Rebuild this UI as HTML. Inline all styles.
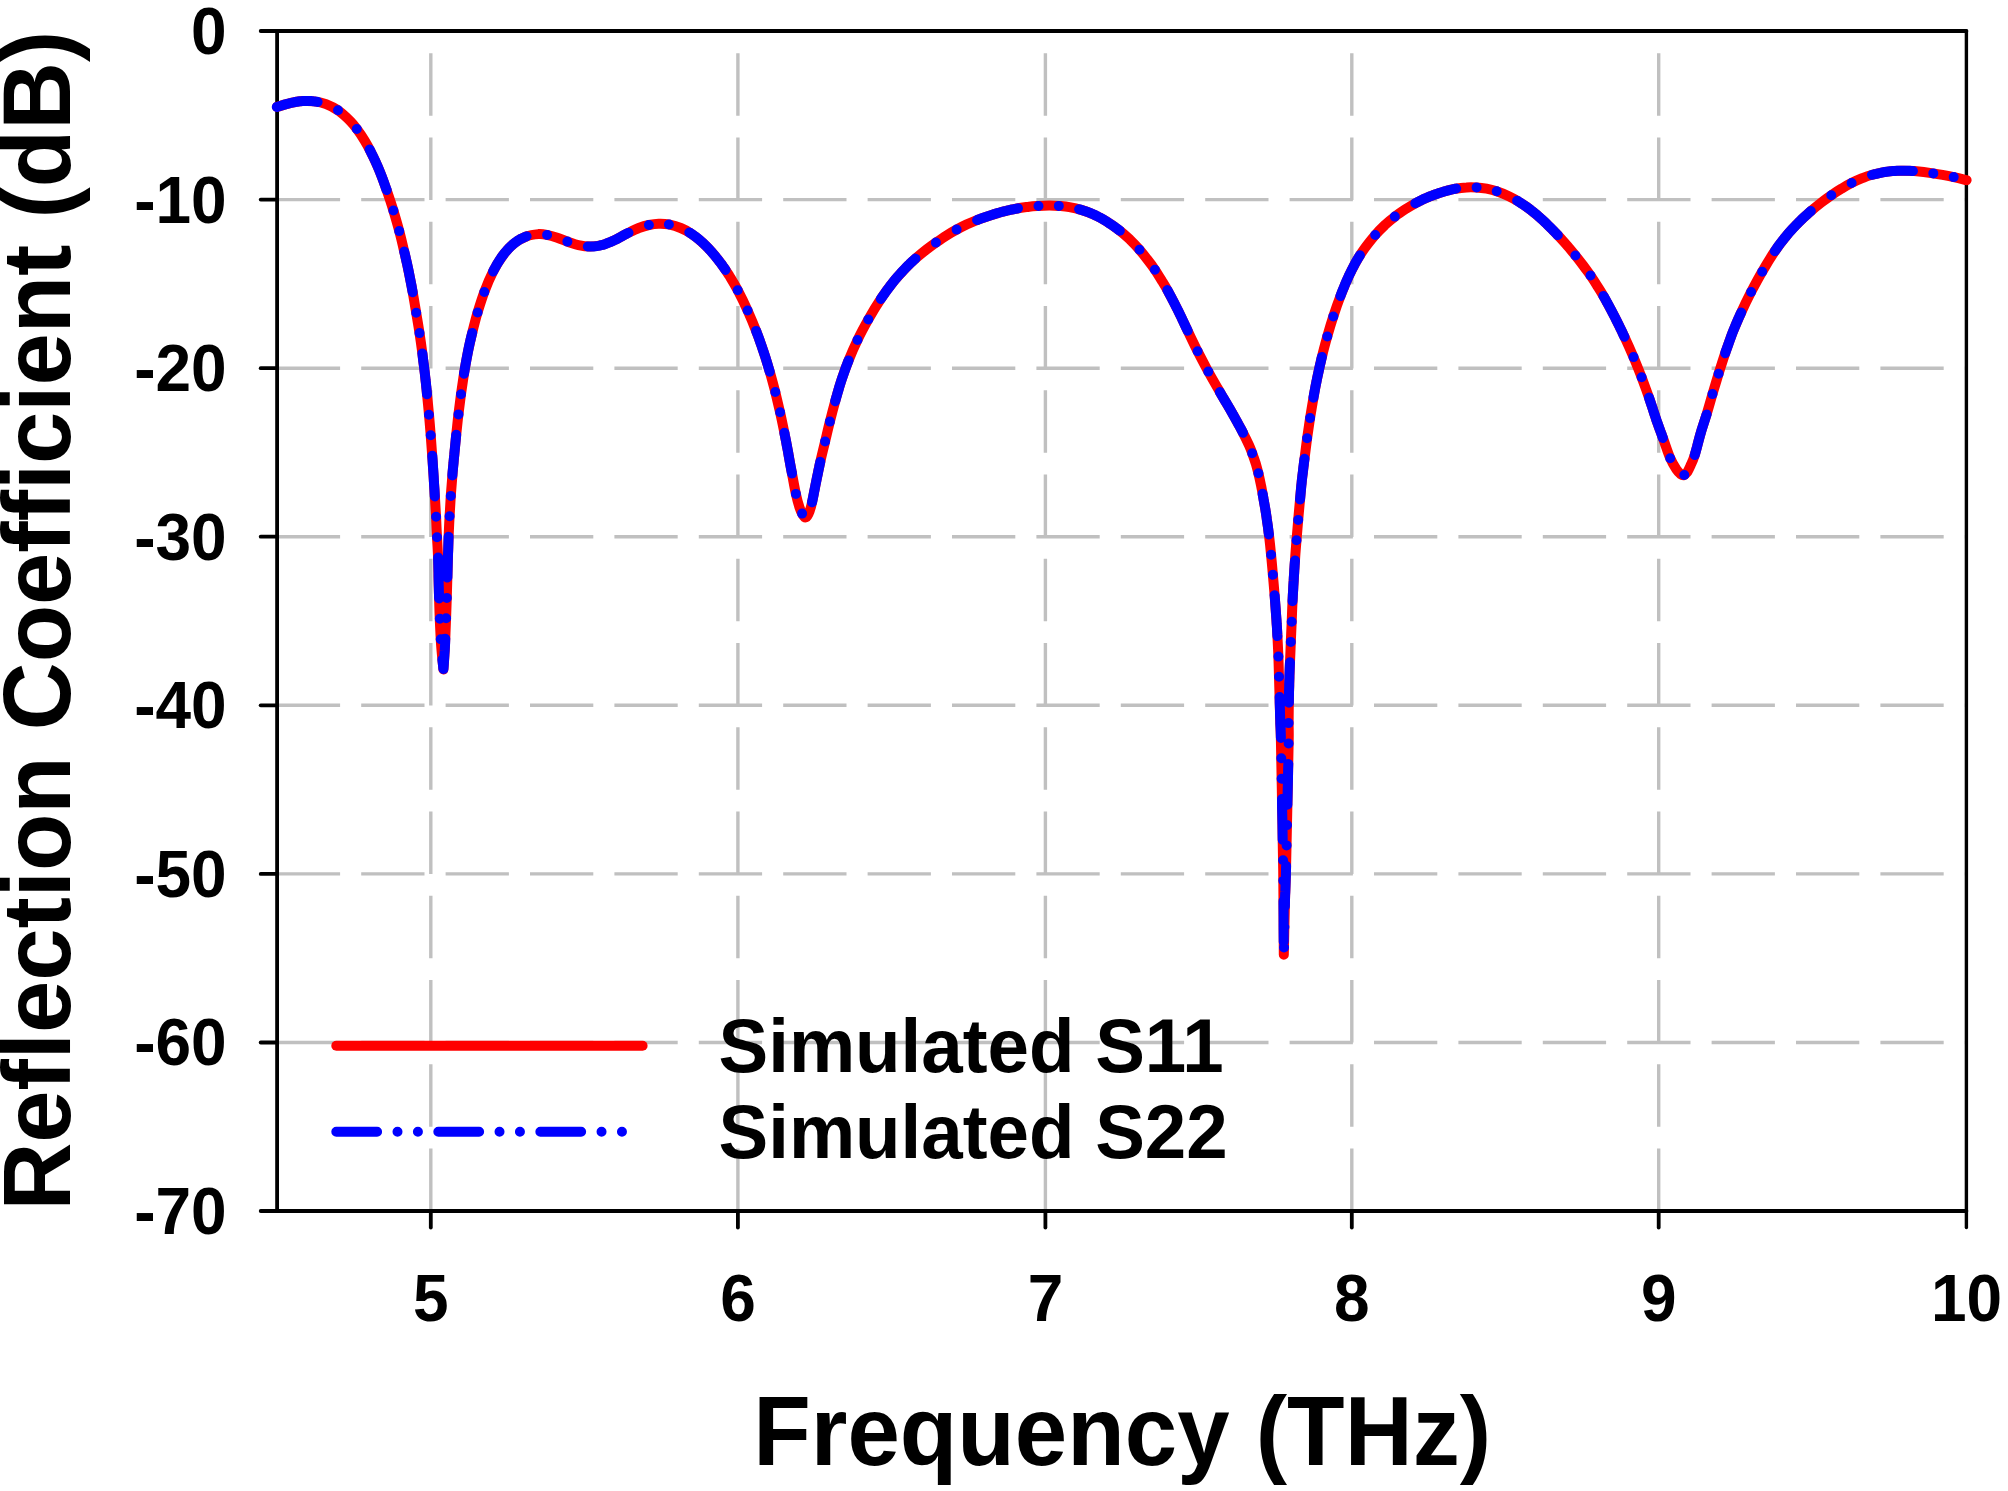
<!DOCTYPE html>
<html lang="en"><head><meta charset="utf-8"><title>Reflection Coefficient vs Frequency</title>
<style>html,body{margin:0;padding:0;background:#fff}body{width:2008px;height:1491px;overflow:hidden}svg{display:block}text{font-family:'Liberation Sans', sans-serif;font-weight:700;fill:#000}</style></head><body>
<svg width="2008" height="1491" viewBox="0 0 2008 1491">
<rect width="2008" height="1491" fill="#fff"/>
<g stroke="#c0c0c0" stroke-width="3.4" fill="none">
<g stroke-dasharray="63.3 21.1">
<line x1="276.8" y1="199.6" x2="1966.4" y2="199.6"/>
<line x1="276.8" y1="368.2" x2="1966.4" y2="368.2"/>
<line x1="276.8" y1="536.7" x2="1966.4" y2="536.7"/>
<line x1="276.8" y1="705.3" x2="1966.4" y2="705.3"/>
<line x1="276.8" y1="873.9" x2="1966.4" y2="873.9"/>
<line x1="276.8" y1="1042.5" x2="1966.4" y2="1042.5"/>
</g><g stroke-dasharray="62.5 21.75">
<line x1="430.8" y1="1211.0" x2="430.8" y2="31.0"/>
<line x1="737.9" y1="1211.0" x2="737.9" y2="31.0"/>
<line x1="1045.4" y1="1211.0" x2="1045.4" y2="31.0"/>
<line x1="1351.8" y1="1211.0" x2="1351.8" y2="31.0"/>
<line x1="1658.7" y1="1211.0" x2="1658.7" y2="31.0"/>
</g></g>
<g stroke="#000" stroke-width="3.8" fill="none" stroke-linecap="round">
<line x1="260.7" y1="31.0" x2="1966.4" y2="31.0"/>
<line x1="260.7" y1="1211.0" x2="1966.4" y2="1211.0"/>
<line x1="277.1" y1="31.0" x2="277.1" y2="1211.0" stroke-linecap="butt"/>
<line x1="1966.4" y1="31.0" x2="1966.4" y2="1227.5" stroke-width="3.4"/>
<line x1="260.7" y1="199.6" x2="277.1" y2="199.6"/>
<line x1="260.7" y1="368.2" x2="277.1" y2="368.2"/>
<line x1="260.7" y1="536.7" x2="277.1" y2="536.7"/>
<line x1="260.7" y1="705.3" x2="277.1" y2="705.3"/>
<line x1="260.7" y1="873.9" x2="277.1" y2="873.9"/>
<line x1="260.7" y1="1042.5" x2="277.1" y2="1042.5"/>
<line x1="430.8" y1="1211.0" x2="430.8" y2="1227.5"/>
<line x1="737.9" y1="1211.0" x2="737.9" y2="1227.5"/>
<line x1="1045.4" y1="1211.0" x2="1045.4" y2="1227.5"/>
<line x1="1351.8" y1="1211.0" x2="1351.8" y2="1227.5"/>
<line x1="1658.7" y1="1211.0" x2="1658.7" y2="1227.5"/>
</g>
<path d="M277.0 106.9C279.2 106.3 285.9 104.1 290.1 103.1C294.3 102.1 298.2 101.4 302.2 101.1C306.2 100.8 310.4 100.9 314.3 101.4C318.3 101.9 322.1 102.6 326.1 104.1C330.1 105.6 334.2 107.7 338.3 110.5C342.3 113.4 347.3 118.1 350.4 121.2C353.4 124.2 354.3 125.5 356.6 128.7C359.0 131.9 362.2 136.6 364.5 140.4C366.8 144.2 368.2 146.6 370.6 151.4C373.0 156.2 376.3 163.0 378.9 169.4C381.6 175.8 384.1 182.9 386.5 189.7C388.9 196.6 391.2 203.4 393.3 210.3C395.4 217.3 397.5 224.5 399.3 231.3C401.1 238.1 402.5 244.1 404.1 251.1C405.8 258.0 407.6 266.1 409.0 273.2C410.5 280.2 411.7 286.7 412.9 293.3C414.1 299.9 415.1 306.2 416.2 312.8C417.3 319.4 418.5 326.1 419.5 332.9C420.5 339.7 421.5 346.8 422.4 353.6C423.2 360.4 424.1 367.4 424.9 373.8C425.6 380.2 426.1 385.1 426.8 391.9C427.5 398.7 428.3 407.5 429.0 414.7C429.6 421.9 430.1 427.2 430.7 435.2C431.3 443.2 432.0 452.3 432.7 462.6C433.4 472.9 434.3 487.7 434.9 496.8C435.4 505.9 435.7 510.7 436.1 517.3C436.4 523.9 436.6 529.8 437.0 536.6C437.3 543.4 437.8 549.8 438.1 558.3C438.4 566.8 438.5 578.0 438.8 587.9C439.1 597.8 439.3 608.0 439.7 617.5C440.1 627.0 440.5 636.2 441.1 644.9C441.7 653.6 443.0 665.4 443.4 669.5C443.7 665.4 444.6 653.6 445.0 644.9C445.4 636.2 445.8 625.5 446.1 617.5C446.4 609.5 446.5 605.7 446.8 597.0C447.1 588.3 447.4 575.2 447.7 565.1C448.0 555.0 448.3 544.8 448.6 536.6C449.0 528.4 449.2 522.9 449.6 516.1C450.0 509.3 450.4 502.6 450.8 495.6C451.3 488.6 451.9 481.4 452.5 474.0C453.1 466.6 454.0 457.9 454.6 451.2C455.2 444.6 455.7 440.2 456.3 434.1C457.0 428.0 457.6 421.3 458.4 414.7C459.2 408.0 460.1 401.2 461.0 394.2C462.0 387.3 463.0 380.1 464.1 373.0C465.3 365.9 466.6 358.3 468.0 351.5C469.4 344.8 470.7 339.0 472.3 332.5C473.9 326.0 475.5 319.5 477.5 312.7C479.6 305.9 481.8 298.6 484.4 291.7C487.0 284.7 490.1 277.4 493.2 271.2C496.4 265.0 499.9 259.3 503.5 254.6C507.1 249.8 510.9 245.9 514.8 242.9C518.7 239.8 522.8 237.7 526.8 236.2C530.7 234.8 535.2 234.4 538.5 234.1C541.8 233.9 543.6 234.2 546.8 234.8C549.9 235.4 553.7 236.5 557.3 237.7C560.8 238.8 564.4 240.5 567.9 241.8C571.4 243.0 574.7 244.4 578.4 245.2C582.2 246.0 586.4 246.6 590.3 246.6C594.2 246.6 598.1 246.0 602.1 245.0C606.1 243.9 610.3 242.1 614.3 240.3C618.4 238.4 622.4 235.8 626.5 233.8C630.6 231.8 635.0 229.5 638.8 228.0C642.5 226.6 645.5 225.7 648.9 225.0C652.2 224.3 655.4 223.8 658.7 223.7C662.0 223.6 665.1 223.7 668.8 224.4C672.4 225.2 677.0 226.5 680.7 228.0C684.4 229.5 687.4 231.1 690.7 233.3C694.1 235.5 697.7 238.2 701.0 241.2C704.4 244.2 707.8 247.5 711.1 251.3C714.4 255.0 718.0 259.5 721.0 263.5C724.0 267.6 726.4 271.1 729.2 275.5C731.9 280.0 734.6 284.3 737.7 290.2C740.8 296.1 744.6 303.9 747.7 310.8C750.8 317.8 753.9 325.2 756.5 331.8C759.1 338.4 761.0 344.0 763.2 350.6C765.4 357.1 767.6 364.3 769.6 371.2C771.6 378.0 773.4 384.9 775.2 391.7C776.9 398.6 778.5 405.5 780.1 412.4C781.6 419.3 783.1 426.2 784.4 433.0C785.8 439.8 787.0 446.3 788.3 453.2C789.5 460.2 790.9 468.0 792.2 474.8C793.5 481.6 794.7 488.6 795.9 494.0C797.1 499.4 798.3 503.8 799.4 507.1C800.5 510.5 801.4 512.4 802.4 514.1C803.4 515.8 804.4 517.5 805.4 517.5C806.4 517.5 807.4 516.2 808.4 514.1C809.4 512.0 810.2 510.0 811.4 505.1C812.6 500.2 814.0 492.3 815.5 484.9C817.0 477.5 818.9 467.9 820.5 460.8C822.1 453.7 823.4 448.8 824.9 442.3C826.5 435.7 828.1 428.6 829.9 421.5C831.7 414.4 833.7 406.8 835.6 399.8C837.6 392.7 839.6 385.8 841.7 379.3C843.9 372.8 845.9 367.3 848.5 360.7C851.1 354.2 854.3 346.7 857.6 339.9C860.8 333.1 864.2 326.8 868.1 319.9C872.0 313.0 876.7 305.2 881.1 298.6C885.4 292.1 890.0 286.0 894.3 280.7C898.6 275.4 903.0 270.7 906.7 266.9C910.4 263.1 913.1 260.7 916.4 257.8C919.7 255.0 923.2 252.1 926.5 249.5C929.8 247.0 932.8 244.8 936.2 242.4C939.5 240.1 943.1 237.6 946.6 235.4C950.0 233.3 953.4 231.3 956.8 229.5C960.1 227.7 963.1 226.1 966.8 224.4C970.5 222.8 974.8 221.0 978.8 219.4C982.8 217.9 986.8 216.5 990.9 215.2C994.9 213.9 998.6 212.7 1003.0 211.6C1007.4 210.5 1012.8 209.3 1017.1 208.5C1021.5 207.7 1025.6 207.2 1029.1 206.7C1032.6 206.3 1034.8 206.2 1038.2 206.0C1041.6 205.8 1045.8 205.6 1049.3 205.6C1052.8 205.6 1056.0 205.7 1059.3 205.9C1062.7 206.2 1065.7 206.4 1069.4 207.1C1073.0 207.7 1077.3 208.6 1081.3 209.9C1085.4 211.1 1089.5 212.6 1093.6 214.5C1097.6 216.3 1101.2 218.1 1105.5 220.8C1109.9 223.5 1115.6 227.5 1119.8 230.7C1123.9 233.8 1127.0 236.8 1130.2 239.8C1133.4 242.9 1136.1 245.8 1139.0 249.1C1141.8 252.4 1144.7 256.0 1147.3 259.4C1150.0 262.8 1152.4 266.0 1154.9 269.7C1157.4 273.4 1160.1 277.9 1162.3 281.5C1164.6 285.2 1165.5 286.6 1168.2 291.6C1170.9 296.6 1175.4 305.1 1178.6 311.6C1181.8 318.2 1184.5 324.1 1187.6 330.7C1190.8 337.3 1194.2 344.5 1197.6 351.3C1201.1 358.1 1204.7 365.0 1208.2 371.5C1211.8 377.9 1215.3 384.1 1218.8 390.1C1222.2 396.0 1225.8 402.0 1228.8 407.2C1231.8 412.4 1234.4 416.9 1236.8 421.3C1239.2 425.7 1241.3 429.4 1243.3 433.4C1245.4 437.4 1247.6 442.1 1249.1 445.4C1250.6 448.7 1251.1 450.2 1252.2 453.2C1253.3 456.2 1254.7 460.2 1255.8 463.6C1256.8 467.1 1257.6 470.1 1258.5 473.7C1259.4 477.4 1260.3 481.9 1261.1 485.7C1261.8 489.5 1262.3 491.9 1263.1 496.5C1263.9 501.1 1265.0 507.1 1266.0 513.4C1266.9 519.7 1268.0 527.5 1268.9 534.3C1269.7 541.1 1270.4 547.4 1271.0 554.2C1271.7 561.0 1272.3 567.9 1272.9 575.0C1273.5 582.1 1274.2 589.5 1274.7 596.7C1275.3 603.9 1275.9 611.9 1276.3 618.4C1276.8 624.9 1277.1 629.3 1277.4 635.6C1277.7 641.9 1278.1 649.5 1278.4 656.4C1278.6 663.3 1278.8 670.2 1279.0 677.2C1279.2 684.1 1279.4 691.0 1279.6 698.1C1279.8 705.2 1280.0 712.8 1280.2 719.8C1280.4 726.8 1280.6 726.6 1280.9 740.0C1281.2 753.4 1281.6 778.3 1282.0 800.0C1282.4 821.7 1282.9 844.2 1283.2 870.0C1283.5 895.8 1283.7 940.7 1283.8 954.8C1284.0 945.7 1284.6 914.1 1285.0 900.0C1285.4 885.9 1285.6 886.7 1286.0 870.0C1286.4 853.3 1287.0 821.7 1287.5 800.0C1288.0 778.3 1288.5 752.8 1288.7 740.0C1288.9 727.2 1288.6 729.5 1288.6 723.4C1288.7 717.3 1288.7 710.4 1288.8 703.5C1288.9 696.6 1289.1 688.7 1289.3 681.8C1289.5 674.9 1289.7 668.6 1290.0 661.9C1290.3 655.3 1290.6 648.6 1290.8 641.9C1291.1 635.2 1291.4 628.3 1291.7 621.7C1292.0 615.1 1292.1 609.3 1292.5 602.1C1292.8 594.9 1293.4 585.8 1293.8 578.6C1294.2 571.4 1294.6 565.1 1295.1 558.7C1295.5 552.3 1296.0 546.7 1296.5 540.2C1297.0 533.7 1297.7 526.5 1298.2 519.8C1298.8 513.1 1299.4 506.2 1300.0 499.9C1300.6 493.5 1301.0 488.4 1301.7 481.7C1302.5 475.0 1303.5 466.8 1304.4 459.6C1305.3 452.4 1306.2 445.3 1307.1 438.4C1308.1 431.4 1309.1 424.6 1310.1 417.9C1311.2 411.2 1312.2 405.0 1313.4 398.2C1314.6 391.4 1315.9 384.3 1317.4 377.1C1318.9 369.9 1320.7 361.6 1322.4 354.9C1324.0 348.2 1325.4 343.2 1327.2 336.7C1329.0 330.3 1331.2 322.8 1333.4 316.1C1335.6 309.4 1337.6 303.5 1340.3 296.5C1343.0 289.5 1346.2 281.4 1349.6 274.3C1353.0 267.3 1356.4 260.7 1360.6 254.2C1364.8 247.8 1370.7 240.4 1374.9 235.4C1379.0 230.5 1382.2 227.6 1385.6 224.4C1389.0 221.2 1391.7 219.0 1395.2 216.4C1398.6 213.7 1402.9 210.9 1406.4 208.6C1409.9 206.4 1412.5 204.8 1416.2 202.8C1419.8 200.9 1423.8 198.9 1428.2 197.1C1432.6 195.3 1437.9 193.4 1442.5 192.0C1447.0 190.6 1451.5 189.5 1455.5 188.7C1459.5 188.0 1463.1 187.6 1466.5 187.4C1470.0 187.1 1472.9 187.2 1476.2 187.4C1479.5 187.6 1483.0 188.0 1486.6 188.7C1490.1 189.4 1493.6 190.2 1497.3 191.5C1501.0 192.7 1505.3 194.5 1508.8 196.2C1512.4 197.9 1514.9 199.2 1518.6 201.6C1522.3 203.9 1527.0 207.0 1531.0 210.2C1535.1 213.3 1538.6 216.3 1543.0 220.4C1547.3 224.4 1553.2 230.5 1557.1 234.5C1561.0 238.5 1563.2 241.1 1566.2 244.5C1569.2 247.9 1572.2 251.6 1575.1 255.1C1577.9 258.6 1580.7 262.2 1583.3 265.6C1585.9 269.1 1588.3 272.5 1590.7 275.8C1593.0 279.2 1595.1 282.4 1597.2 285.8C1599.4 289.2 1600.8 291.3 1603.6 296.2C1606.3 301.1 1610.4 308.5 1613.9 315.3C1617.4 322.0 1621.2 330.0 1624.5 336.9C1627.7 343.8 1630.5 350.1 1633.4 356.9C1636.3 363.7 1639.0 370.6 1641.7 377.5C1644.3 384.5 1646.9 391.7 1649.4 398.8C1651.9 405.9 1654.1 413.4 1656.4 420.1C1658.7 426.8 1661.0 432.6 1663.3 439.0C1665.6 445.4 1668.2 453.5 1670.4 458.6C1672.6 463.7 1674.8 467.0 1676.5 469.6C1678.2 472.2 1679.3 473.1 1680.5 474.0C1681.7 474.9 1682.4 475.5 1683.5 475.3C1684.6 475.1 1685.7 474.2 1686.9 472.6C1688.1 471.0 1689.2 468.5 1690.5 465.6C1691.8 462.8 1692.9 460.9 1694.6 455.5C1696.3 450.1 1698.6 440.4 1700.6 433.4C1702.6 426.4 1704.9 420.0 1706.9 413.4C1708.9 406.8 1710.6 400.7 1712.5 394.0C1714.5 387.4 1716.6 380.2 1718.7 373.4C1720.9 366.5 1722.9 360.0 1725.3 352.9C1727.7 345.9 1730.5 337.9 1733.2 331.0C1736.0 324.1 1738.7 318.0 1741.6 311.6C1744.5 305.2 1747.4 299.3 1750.8 292.6C1754.3 285.9 1758.3 278.3 1762.4 271.4C1766.4 264.4 1770.9 257.0 1775.0 250.9C1779.2 244.7 1783.2 239.6 1787.3 234.7C1791.3 229.9 1795.5 225.6 1799.3 221.8C1803.1 217.9 1806.6 214.8 1810.1 211.7C1813.7 208.6 1817.1 205.8 1820.6 203.1C1824.2 200.4 1827.7 197.8 1831.2 195.4C1834.6 193.0 1838.0 190.7 1841.5 188.7C1844.9 186.6 1848.5 184.5 1851.9 182.8C1855.2 181.1 1858.4 179.7 1861.6 178.4C1864.9 177.1 1867.1 176.1 1871.4 175.0C1875.7 173.9 1882.5 172.3 1887.4 171.6C1892.3 170.9 1896.3 170.8 1900.7 170.7C1905.2 170.6 1908.8 170.7 1914.2 171.1C1919.5 171.6 1926.4 172.4 1933.0 173.4C1939.6 174.4 1948.2 176.0 1953.8 177.1C1959.4 178.2 1964.5 179.7 1966.6 180.2" fill="none" stroke="#ff0000" stroke-width="10" stroke-linecap="round" stroke-linejoin="round"/>
<path d="M276.8 107.0L277.3 106.8L278.4 106.5L279.9 106.0L281.6 105.5L283.4 104.9L285.3 104.4L287.2 103.8L289.0 103.4L290.6 103.0L292.2 102.6L293.7 102.3L295.2 102.0L296.7 101.8L298.2 101.5L299.7 101.3L301.2 101.2L302.7 101.1L304.2 101.0L305.7 100.9L307.3 100.9L308.8 101.0L310.3 101.0L311.8 101.1L313.3 101.3L314.8 101.4L316.3 101.6L317.6 101.9M338.0 110.3h0.01M356.8 129.0h0.01M369.6 149.4L369.7 149.7L370.6 151.4L371.5 153.3L372.5 155.3L373.6 157.5L374.7 159.8L375.7 162.1L376.8 164.5L377.9 167.0L378.9 169.4L379.9 171.8L380.9 174.3L381.9 176.8L382.8 179.4L383.8 182.0L384.7 184.6L385.6 187.2L386.5 189.7L386.7 190.1M393.4 210.5h0.01M399.2 231.1h0.01M404.2 251.5L404.3 251.9L405.0 254.6L405.6 257.4L406.2 260.2L406.9 263.0L407.5 265.8L408.1 268.6L408.7 271.4L409.2 274.0L409.7 276.6L410.2 279.2L410.7 281.7L411.2 284.2L411.7 286.7L412.1 289.2L412.6 291.7L412.7 292.3M416.2 312.7h0.01M419.5 333.1h0.01M422.3 353.5L422.4 353.6L422.7 356.2L423.0 358.8L423.3 361.3L423.7 363.9L424.0 366.4L424.3 368.9L424.6 371.4L424.9 373.8L425.1 376.1L425.4 378.4L425.6 380.5L425.9 382.7L426.1 384.9L426.3 387.1L426.6 389.4L426.8 391.9L427.0 394.3M428.9 414.7h0.01M430.7 435.3h0.01M432.3 455.7L432.3 456.3L432.6 460.1L432.8 463.9L433.1 468.1L433.4 472.5L433.7 477.1L433.9 481.7L434.2 486.2L434.5 490.4L434.7 494.4L434.8 496.4M436.1 516.8h0.01M437.0 537.2h0.01M438.1 557.6L438.1 558.3L438.2 561.6L438.3 565.1L438.4 568.8L438.5 572.6L438.5 576.5L438.6 580.3L438.7 584.1L438.8 587.9L438.9 591.6L439.0 595.4L439.1 598.4M439.8 618.8h0.01M440.7 639.2h0.01M442.4 659.6L442.4 660.0L442.8 663.2L443.1 666.0L443.3 668.3L443.4 668.9L443.6 666.9L443.8 664.2L444.0 661.1L444.2 657.8L444.4 654.2L444.7 650.6L444.9 647.1L445.1 643.8L445.2 640.4L445.3 638.7M446.1 618.3h0.01M446.8 597.9h0.01M447.3 577.5L447.4 577.3L447.5 573.1L447.6 569.0L447.7 565.1L447.8 561.3L447.9 557.5L448.0 553.8L448.2 550.1L448.3 546.6L448.4 543.1L448.5 539.8L448.6 536.7M449.6 516.3h0.01M450.8 495.9h0.01M452.4 475.5L452.4 474.9L452.6 472.1L452.9 469.2L453.2 466.3L453.5 463.3L453.7 460.4L454.0 457.5L454.3 454.7L454.5 452.1L454.8 449.6L455.0 447.3L455.2 445.2L455.4 443.1L455.6 441.1L455.8 439.1L456.0 437.0L456.2 434.8L456.2 434.8M458.5 414.4h0.01M461.0 394.3h0.01M464.0 373.8L464.1 373.0L464.6 370.3L465.0 367.6L465.5 364.9L466.0 362.1L466.5 359.4L467.0 356.8L467.5 354.1L468.0 351.5L468.5 349.1L469.0 346.6L469.5 344.3L470.0 341.9L470.6 339.6L471.1 337.3L471.7 334.9L472.2 332.9M477.6 312.5h0.01M484.3 292.0h0.01M493.1 271.5L493.2 271.2L494.4 268.9L495.7 266.6L496.9 264.4L498.2 262.3L499.5 260.3L500.8 258.3L502.1 256.4L503.5 254.6L504.8 252.8L506.2 251.2L507.6 249.6L509.0 248.1L510.4 246.7L511.9 245.3L513.3 244.0L514.8 242.9L516.3 241.8L517.7 240.7L519.3 239.8L520.8 238.9L522.3 238.2L523.8 237.5L525.3 236.8L526.6 236.3M547.1 234.9h0.01M567.4 241.6h0.01M587.8 246.5L587.8 246.5L589.3 246.6L590.8 246.6L592.3 246.5L593.7 246.4L595.2 246.3L596.7 246.1L598.1 245.9L599.6 245.6L601.1 245.2L602.6 244.9L604.1 244.4L605.6 243.9L607.2 243.3L608.7 242.7L610.2 242.1L611.8 241.4L613.3 240.7L614.8 240.0L616.4 239.3L617.9 238.5L619.4 237.7L620.9 236.8L622.4 236.0L623.9 235.1L625.5 234.3L627.0 233.5L628.5 232.8M648.9 225.0h0.01M668.9 224.5h0.01M689.3 232.4L689.5 232.5L690.7 233.3L692.0 234.2L693.3 235.1L694.6 236.0L695.9 237.0L697.2 238.0L698.5 239.0L699.8 240.1L701.0 241.2L702.3 242.3L703.6 243.5L704.8 244.7L706.1 246.0L707.3 247.2L708.6 248.5L709.8 249.9L711.1 251.3L712.3 252.7L713.6 254.2L714.9 255.7L716.1 257.3L717.4 258.9L718.6 260.4L719.8 262.0L721.0 263.5L722.1 265.0L723.1 266.5L724.2 267.9L725.2 269.4L725.5 269.9M737.7 290.3h0.01M747.6 310.5h0.01M756.1 330.9L756.2 331.0L757.1 333.5L758.0 335.8L758.9 338.2L759.7 340.5L760.5 342.8L761.3 345.0L762.1 347.4L762.9 349.8L763.7 352.2L764.6 354.8L765.4 357.3L766.2 359.9L767.0 362.5L767.8 365.1L768.5 367.7L769.3 370.3L769.7 371.7M775.3 392.0h0.01M780.1 412.3h0.01M784.4 432.7L784.4 433.0L784.9 435.6L785.4 438.1L785.9 440.6L786.4 443.1L786.8 445.6L787.3 448.1L787.8 450.6L788.3 453.2L788.7 455.9L789.2 458.6L789.7 461.3L790.2 464.1L790.7 466.8L791.2 469.5L791.7 472.2L792.0 473.5M795.9 493.9h0.01M802.1 513.6h0.01M812.0 502.3L812.2 501.7L812.7 499.3L813.2 496.8L813.7 494.2L814.2 491.4L814.8 488.6L815.3 485.8L815.9 483.0L816.5 480.0L817.1 476.9L817.8 473.8L818.4 470.6L819.1 467.5L819.7 464.5L820.3 461.8M825.1 441.5h0.01M829.9 421.6h0.01M835.2 401.2L835.4 400.6L836.1 398.0L836.9 395.4L837.6 392.8L838.4 390.2L839.1 387.6L839.9 385.1L840.7 382.6L841.5 380.1L842.3 377.7L843.1 375.4L843.9 373.1L844.7 370.8L845.5 368.5L846.3 366.3L847.2 363.9L848.2 361.5L848.6 360.4M857.5 340.0h0.01M868.3 319.5h0.01M880.8 299.0L881.1 298.6L882.7 296.2L884.4 293.8L886.0 291.5L887.7 289.2L889.4 287.0L891.0 284.8L892.7 282.7L894.3 280.7L895.9 278.7L897.5 276.8L899.1 275.0L900.7 273.2L902.3 271.5L903.8 269.9L905.3 268.3L906.7 266.9L908.0 265.5L909.3 264.3L910.5 263.1L911.7 262.0L912.8 261.0L914.0 259.9L915.1 258.9L915.5 258.6M935.9 242.6h0.01M956.6 229.6h0.01M977.1 220.1L977.3 220.0L978.8 219.4L980.3 218.8L981.8 218.3L983.3 217.7L984.8 217.2L986.3 216.7L987.8 216.2L989.4 215.7L990.9 215.2L992.4 214.7L993.8 214.2L995.3 213.8L996.8 213.3L998.3 212.9L999.8 212.5L1001.4 212.0L1003.0 211.6L1004.7 211.2L1006.4 210.8L1008.2 210.3L1010.1 209.9L1011.9 209.5L1013.7 209.2L1015.5 208.8L1017.1 208.5L1018.0 208.3M1038.5 206.0h0.01M1058.8 205.9h0.01M1079.1 209.2L1079.3 209.3L1080.8 209.7L1082.3 210.2L1083.9 210.7L1085.4 211.2L1086.9 211.8L1088.5 212.3L1090.0 212.9L1091.6 213.6L1093.1 214.2L1094.6 214.9L1096.1 215.6L1097.5 216.3L1099.0 217.1L1100.4 217.8L1101.9 218.7L1103.4 219.5L1105.0 220.5L1106.7 221.5L1108.4 222.7L1110.3 223.9L1112.1 225.1L1114.0 226.4L1115.8 227.7L1117.6 229.0L1119.2 230.3L1119.8 230.7M1139.5 249.7h0.01M1154.9 269.7h0.01M1167.4 290.1L1167.6 290.4L1168.6 292.2L1169.7 294.4L1171.0 296.7L1172.3 299.3L1173.7 301.9L1175.1 304.7L1176.4 307.4L1177.8 310.0L1179.0 312.5L1180.2 314.9L1181.3 317.2L1182.4 319.6L1183.5 321.9L1184.6 324.3L1185.7 326.7L1186.9 329.1L1187.7 330.8M1197.6 351.2h0.01M1208.3 371.6h0.01M1219.9 392.0L1220.0 392.3L1221.3 394.5L1222.6 396.7L1223.9 398.9L1225.2 401.1L1226.5 403.2L1227.7 405.2L1228.8 407.2L1229.9 409.1L1231.0 411.0L1232.0 412.8L1233.0 414.6L1234.0 416.3L1234.9 418.0L1235.9 419.7L1236.8 421.3L1237.7 422.9L1238.5 424.5L1239.4 426.0L1240.2 427.5L1241.0 429.0L1241.8 430.4L1242.5 431.9L1243.0 432.8M1252.2 453.2h0.01M1258.4 473.3h0.01M1262.6 493.7L1262.6 493.9L1262.9 495.4L1263.2 497.1L1263.5 498.9L1263.9 500.9L1264.2 502.9L1264.6 505.0L1265.0 507.3L1265.4 509.5L1265.7 511.8L1266.1 514.2L1266.5 516.7L1266.8 519.2L1267.2 521.9L1267.6 524.6L1268.0 527.3L1268.3 529.9L1268.6 532.6L1268.9 534.4M1271.1 554.7h0.01M1272.9 574.8h0.01M1274.6 595.2L1274.7 595.8L1274.9 598.5L1275.1 601.3L1275.3 604.1L1275.5 606.9L1275.7 609.7L1275.9 612.4L1276.1 615.0L1276.3 617.6L1276.5 620.0L1276.6 622.2L1276.7 624.3L1276.9 626.4L1277.0 628.4L1277.1 630.5L1277.2 632.6L1277.3 634.8L1277.4 636.1M1278.4 656.6h0.01M1279.0 676.7h0.01M1279.6 697.1L1279.6 697.2L1279.7 699.9L1279.7 702.6L1279.8 705.3L1279.9 708.1L1280.0 710.8L1280.0 713.6L1280.1 716.3L1280.2 718.9L1280.3 721.4L1280.3 723.4L1280.4 725.2L1280.5 726.9L1280.6 728.8L1280.7 731.2L1280.8 734.3L1280.9 737.9M1281.3 758.3h0.01M1281.6 778.7h0.01M1282.0 799.1L1282.0 800.0L1282.1 808.2L1282.3 816.5L1282.5 824.9L1282.6 833.5L1282.7 839.9M1283.1 860.2h0.01M1283.3 880.6h0.01M1283.5 901.0L1283.5 904.4L1283.6 916.8L1283.6 928.6L1283.7 939.2L1283.7 941.8M1284.0 947.4h0.01M1284.4 927.0h0.01M1284.8 906.6L1284.9 906.0L1285.0 900.0L1285.1 895.3L1285.3 891.7L1285.4 888.7L1285.5 886.0L1285.6 883.1L1285.7 879.7L1285.9 875.5L1286.0 870.0L1286.1 865.8M1286.6 845.4h0.01M1287.0 825.1h0.01M1287.4 804.7L1287.4 802.8L1287.6 794.5L1287.8 786.1L1288.0 777.7L1288.1 769.4L1288.3 763.9M1288.6 743.5h0.01M1288.6 723.1h0.01M1288.9 702.8L1288.9 702.6L1288.9 700.0L1288.9 697.2L1289.0 694.5L1289.0 691.7L1289.1 689.0L1289.2 686.2L1289.2 683.6L1289.3 680.9L1289.4 678.4L1289.4 675.9L1289.5 673.4L1289.6 670.9L1289.7 668.5L1289.8 666.0L1289.9 663.6L1290.0 662.2M1290.8 641.9h0.01M1291.7 621.7h0.01M1292.5 601.3L1292.5 601.2L1292.7 598.4L1292.8 595.4L1293.0 592.4L1293.2 589.4L1293.3 586.3L1293.5 583.3L1293.7 580.5L1293.8 577.7L1294.0 575.1L1294.2 572.5L1294.3 570.0L1294.5 567.5L1294.6 565.1L1294.8 562.7L1295.0 560.5M1296.5 540.2h0.01M1298.2 519.9h0.01M1300.0 499.5L1300.1 499.1L1300.3 496.8L1300.5 494.6L1300.7 492.4L1300.9 490.2L1301.1 488.0L1301.3 485.7L1301.6 483.3L1301.8 480.8L1302.1 478.2L1302.4 475.5L1302.8 472.7L1303.1 469.9L1303.4 467.1L1303.8 464.2L1304.1 461.4L1304.5 458.7L1304.5 458.7M1307.1 438.3h0.01M1310.1 418.1h0.01M1313.5 397.7L1313.5 397.4L1314.0 394.8L1314.4 392.2L1314.9 389.6L1315.4 386.9L1315.9 384.3L1316.5 381.6L1317.0 378.9L1317.6 376.2L1318.2 373.4L1318.8 370.6L1319.4 367.7L1320.0 364.9L1320.7 362.1L1321.3 359.3L1321.9 356.9M1327.3 336.5h0.01M1333.3 316.5h0.01M1340.4 296.1L1340.6 295.6L1341.6 292.9L1342.7 290.2L1343.9 287.3L1345.0 284.5L1346.2 281.7L1347.5 278.9L1348.7 276.1L1350.0 273.5L1351.3 270.8L1352.6 268.3L1353.9 265.7L1355.2 263.2L1356.6 260.8L1358.1 258.3L1359.6 255.9L1359.9 255.3M1375.2 235.0h0.01M1394.8 216.6h0.01M1415.3 203.3L1415.7 203.1L1417.1 202.4L1418.5 201.6L1419.9 200.9L1421.4 200.2L1422.9 199.4L1424.5 198.7L1426.1 198.0L1427.7 197.3L1429.3 196.6L1431.1 196.0L1432.8 195.3L1434.7 194.6L1436.5 194.0L1438.3 193.3L1440.1 192.7L1441.9 192.2L1443.6 191.6L1445.3 191.2L1447.0 190.7L1448.6 190.3L1450.3 189.9L1451.9 189.5L1453.5 189.1L1455.0 188.8L1456.2 188.6M1476.6 187.4h0.01M1496.7 191.3h0.01M1517.1 200.7L1517.3 200.7L1518.6 201.6L1520.0 202.5L1521.5 203.5L1523.1 204.5L1524.7 205.6L1526.3 206.7L1527.9 207.8L1529.5 209.0L1531.0 210.2L1532.5 211.3L1534.0 212.5L1535.4 213.7L1536.9 214.9L1538.3 216.2L1539.8 217.5L1541.4 218.9L1543.0 220.4L1544.7 222.0L1546.5 223.7L1548.3 225.6L1550.2 227.4L1552.1 229.3L1553.9 231.1L1555.6 232.9L1557.1 234.5L1557.8 235.1M1575.4 255.5h0.01M1590.5 275.5h0.01M1603.4 295.9L1603.6 296.2L1604.7 298.2L1605.9 300.3L1607.1 302.6L1608.5 305.0L1609.8 307.5L1611.2 310.1L1612.5 312.7L1613.9 315.3L1615.2 317.8L1616.5 320.5L1617.9 323.3L1619.3 326.0L1620.6 328.8L1622.0 331.5L1623.2 334.3L1624.4 336.7M1633.5 357.1h0.01M1641.6 377.3h0.01M1649.0 397.5L1649.1 397.9L1650.0 400.6L1650.9 403.3L1651.8 406.0L1652.7 408.7L1653.5 411.4L1654.4 414.0L1655.3 416.6L1656.1 419.2L1657.0 421.7L1657.9 424.1L1658.7 426.5L1659.6 428.9L1660.4 431.2L1661.3 433.5L1662.1 435.8L1662.9 438.0M1670.2 458.2h0.01M1684.3 475.0h0.01M1694.7 455.1L1694.8 454.8L1695.5 452.5L1696.2 449.9L1697.0 447.0L1697.7 444.1L1698.5 441.1L1699.3 438.1L1700.1 435.2L1700.9 432.5L1701.6 429.9L1702.4 427.4L1703.2 424.9L1704.0 422.4L1704.8 419.9L1705.6 417.5L1706.4 415.0L1706.6 414.5M1712.5 394.1h0.01M1718.6 373.7h0.01M1725.2 353.3L1725.3 352.9L1726.2 350.2L1727.2 347.5L1728.2 344.7L1729.2 341.9L1730.2 339.1L1731.2 336.3L1732.2 333.6L1733.2 331.0L1734.3 328.4L1735.3 325.9L1736.3 323.5L1737.3 321.1L1738.4 318.7L1739.4 316.3L1740.5 314.0L1741.2 312.5M1751.1 292.0h0.01M1762.2 271.7h0.01M1774.8 251.2L1775.0 250.9L1776.6 248.6L1778.1 246.4L1779.7 244.3L1781.2 242.3L1782.7 240.4L1784.2 238.4L1785.8 236.6L1787.3 234.7L1788.8 232.9L1790.3 231.2L1791.9 229.5L1793.4 227.9L1794.9 226.3L1796.4 224.7L1797.9 223.2L1799.3 221.8L1800.7 220.3L1802.1 219.0L1803.5 217.7L1804.8 216.5L1806.2 215.3L1807.5 214.1L1808.8 212.9L1810.1 211.7L1810.8 211.1M1831.3 195.3h0.01M1851.6 183.0h0.01M1872.0 174.8L1872.5 174.7L1874.3 174.2L1876.3 173.8L1878.4 173.3L1880.6 172.9L1882.7 172.4L1884.8 172.0L1886.8 171.7L1888.6 171.5L1890.3 171.3L1892.0 171.1L1893.7 171.0L1895.3 170.9L1896.9 170.8L1898.5 170.8L1900.2 170.7L1901.8 170.7L1903.4 170.7L1905.0 170.7L1906.6 170.7L1908.2 170.7L1909.8 170.8L1911.6 170.9L1912.9 171.0M1933.3 173.4h0.01M1953.7 177.1h0.01" fill="none" stroke="#0000ff" stroke-width="10" stroke-linecap="round" stroke-linejoin="round"/>
<text transform="translate(226.6 53.9) scale(1 1.045)" font-size="64" text-anchor="end">0</text>
<text transform="translate(226.6 222.5) scale(1 1.045)" font-size="64" text-anchor="end">-10</text>
<text transform="translate(226.6 391.1) scale(1 1.045)" font-size="64" text-anchor="end">-20</text>
<text transform="translate(226.6 559.6) scale(1 1.045)" font-size="64" text-anchor="end">-30</text>
<text transform="translate(226.6 728.2) scale(1 1.045)" font-size="64" text-anchor="end">-40</text>
<text transform="translate(226.6 896.8) scale(1 1.045)" font-size="64" text-anchor="end">-50</text>
<text transform="translate(226.6 1065.4) scale(1 1.045)" font-size="64" text-anchor="end">-60</text>
<text transform="translate(226.6 1234.0) scale(1 1.045)" font-size="64" text-anchor="end">-70</text>
<text transform="translate(430.9 1321.2) scale(1 1.045)" font-size="64" text-anchor="middle">5</text>
<text transform="translate(738.0 1321.2) scale(1 1.045)" font-size="64" text-anchor="middle">6</text>
<text transform="translate(1045.5 1321.2) scale(1 1.045)" font-size="64" text-anchor="middle">7</text>
<text transform="translate(1351.9 1321.2) scale(1 1.045)" font-size="64" text-anchor="middle">8</text>
<text transform="translate(1658.8 1321.2) scale(1 1.045)" font-size="64" text-anchor="middle">9</text>
<text transform="translate(1966.5 1321.2) scale(1 1.045)" font-size="64" text-anchor="middle">10</text>
<line x1="336.3" y1="1045.8" x2="642.6" y2="1045.8" stroke="#ff0000" stroke-width="10" stroke-linecap="round"/>
<line x1="336.3" y1="1131.8" x2="625" y2="1131.8" stroke="#0000ff" stroke-width="10" stroke-linecap="round" stroke-dasharray="40.8 20.4 0.01 20.4 0.01 20.4"/>
<text transform="translate(718.5 1071.9) scale(1 1.020)" font-size="74.5">Simulated S11</text>
<text transform="translate(718.5 1158.0) scale(1 1.020)" font-size="74.5">Simulated S22</text>
<text transform="translate(753.2 1464.9) scale(1 1.035)" font-size="94.2">Frequency (THz)</text>
<text transform="translate(70.2 1210.6) rotate(-90) scale(1 1.035)" font-size="94.0">Reflection Coefficient (dB)</text>
</svg></body></html>
